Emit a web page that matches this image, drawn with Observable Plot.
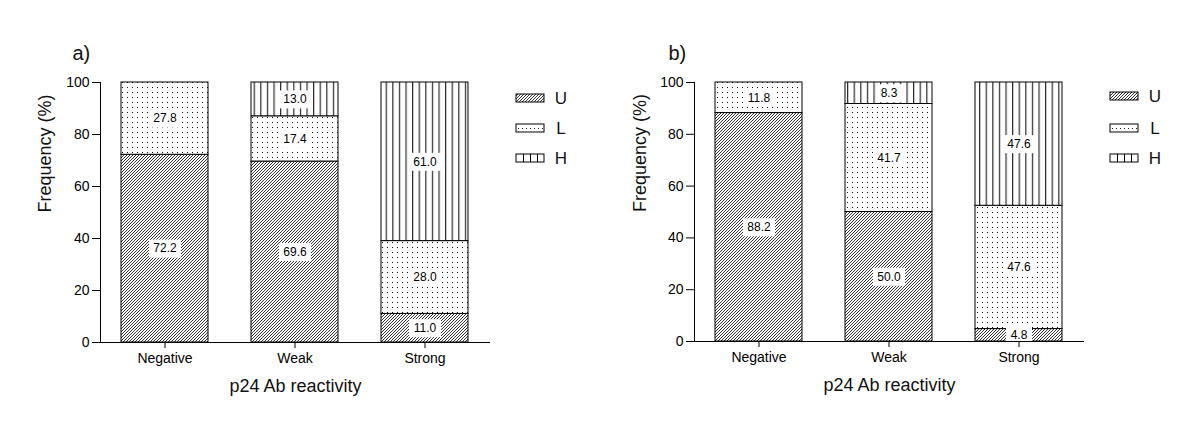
<!DOCTYPE html>
<html><head><meta charset="utf-8">
<script src="https://cdn.jsdelivr.net/npm/d3@7"></script>
<script src="https://cdn.jsdelivr.net/npm/@observablehq/plot@0.6"></script>
<style>
html,body{margin:0;padding:0;background:#fff;}
#wrap{display:flex;width:1200px;height:433px;overflow:hidden;}
#wrap svg{display:block;flex:none;}
</style></head><body>
<svg width="0" height="0" style="position:absolute">
<defs>
<pattern id="patU" patternUnits="userSpaceOnUse" width="3" height="3">
<rect width="3" height="3" fill="#fff"/>
<path d="M-1,1 L1,-1 M0,3 L3,0 M2,4 L4,2" stroke="#000" stroke-width="0.8"/>
</pattern>
<pattern id="patL" patternUnits="userSpaceOnUse" width="5" height="5">
<rect width="5" height="5" fill="#fff"/>
<rect x="2" y="2" width="1" height="1" fill="#111"/>
</pattern>
<pattern id="patH" patternUnits="userSpaceOnUse" width="6.6" height="10">
<rect width="6.6" height="10" fill="#fff"/>
<rect x="3" y="0" width="1" height="10" fill="#000"/>
</pattern>
</defs>
</svg>
<div id="wrap"></div>
<script>
// ---- data ----
const categories = ["Negative", "Weak", "Strong"];
const seriesNames = ["U", "L", "H"];
const panelA_U = [72.2, 69.6, 11.0];
const panelA_L = [27.8, 17.4, 28.0];
const panelA_H = [0, 13.0, 61.0];
const panelB_U = [88.2, 50.0, 4.8];
const panelB_L = [11.8, 41.7, 47.6];
const panelB_H = [0, 8.3, 47.6];
const yTicks = [0, 20, 40, 60, 80, 100];
const panelTitles = ["a)", "b)"];
const xTitle = "p24 Ab reactivity";
const yTitle = "Frequency (%)";

const patterns = {U: "url(#patU)", L: "url(#patL)", H: "url(#patH)"};
const FONT = "'Liberation Sans', Arial, sans-serif";

function rect(w, h) {
  return {draw(ctx) {
    ctx.moveTo(-w / 2, -h / 2); ctx.lineTo(w / 2, -h / 2);
    ctx.lineTo(w / 2, h / 2); ctx.lineTo(-w / 2, h / 2); ctx.closePath();
  }};
}
const box4 = rect(32, 18);
const box3 = rect(26, 18);

function makePanel(U, L, H, title, m) {
  const vals = {U, L, H};
  const rows = [];
  categories.forEach((c, i) => seriesNames.forEach(s => {
    const v = vals[s][i];
    if (v > 0) rows.push({cat: c, series: s, value: v, label: v.toFixed(1)});
  }));
  const st = o => Plot.stackY({x: "cat", y: "value", z: "series", ...o});
  const svg = Plot.plot({
    width: 600, height: 433,
    marginLeft: m.left, marginRight: m.right, marginTop: m.top, marginBottom: m.bottom,
    style: {fontFamily: FONT, color: "#000", background: "#fff", overflow: "visible"},
    x: {domain: categories, paddingInner: 0.33, paddingOuter: 0.165, label: null},
    y: {domain: [0, 100], label: null},
    color: {type: "identity"},
    marks: [
      Plot.barY(rows, st({fill: d => patterns[d.series], stroke: "#000", strokeWidth: 1})),
      Plot.dot(rows, st({symbol: box4, r: 5, fill: d => d.label.length === 4 ? "#fff" : "none", stroke: "none"})),
      Plot.dot(rows, st({symbol: box3, r: 5, fill: d => d.label.length === 3 ? "#fff" : "none", stroke: "none"})),
      Plot.text(rows, st({text: "label", fontSize: 12, fill: "#000"})),
      Plot.frame({anchor: "left", stroke: "#000"}),
      Plot.ruleY([0], {stroke: "#000"}),
      Plot.axisY({ticks: yTicks, tickSize: 8, tickPadding: 3, fontSize: 14, label: null}),
      Plot.axisX({tickSize: 6, tickPadding: 5, fontSize: 14, label: null}),
      Plot.text([xTitle], {frameAnchor: "bottom", dy: 49, fontSize: 18, fill: "#111"}),
      Plot.text([yTitle], {frameAnchor: "left", dx: m.ytDx, rotate: -90, fontSize: 18, fill: "#111"}),
      Plot.text([title], {frameAnchor: "top-left", dx: m.tDx, dy: -37, textAnchor: "start", fontSize: 20, fill: "#111"})
    ]
  });
  // legend
  const g = d3.select(svg).append("g").attr("font-family", FONT);
  const sx = 600 - m.right + 26, tx = 600 - m.right + 71, w = 28, h = 8;
  seriesNames.forEach((s, i) => {
    const cy = m.legY[i];
    const y0 = cy - h / 2;
    g.append("rect").attr("x", sx).attr("y", y0).attr("width", w).attr("height", h)
      .attr("fill", s === "U" ? patterns.U : "#fff").attr("stroke", "#000");
    if (s === "L") {
      g.append("line").attr("x1", sx + 2).attr("x2", sx + w - 1).attr("y1", cy + 0.5).attr("y2", cy + 0.5)
        .attr("stroke", "#222").attr("stroke-dasharray", "1,3");
    }
    if (s === "H") {
      [7, 14, 21].forEach(dx => g.append("line").attr("x1", sx + dx + 0.5).attr("x2", sx + dx + 0.5)
        .attr("y1", y0).attr("y2", y0 + h).attr("stroke", "#000"));
    }
    g.append("text").attr("x", tx).attr("y", cy + 6).attr("font-size", 17).attr("fill", "#111").text(s);
  });
  return svg;
}

const wrap = document.getElementById("wrap");
wrap.appendChild(makePanel(panelA_U, panelA_L, panelA_H, panelTitles[0],
  {left: 100, right: 110, top: 82, bottom: 91, ytDx: -55, tDx: -28, legY: [98, 128, 158]}));
wrap.appendChild(makePanel(panelB_U, panelB_L, panelB_H, panelTitles[1],
  {left: 94, right: 116, top: 82, bottom: 92, ytDx: -54, tDx: -26, legY: [96, 128, 158]}));
</script>
</body></html>
